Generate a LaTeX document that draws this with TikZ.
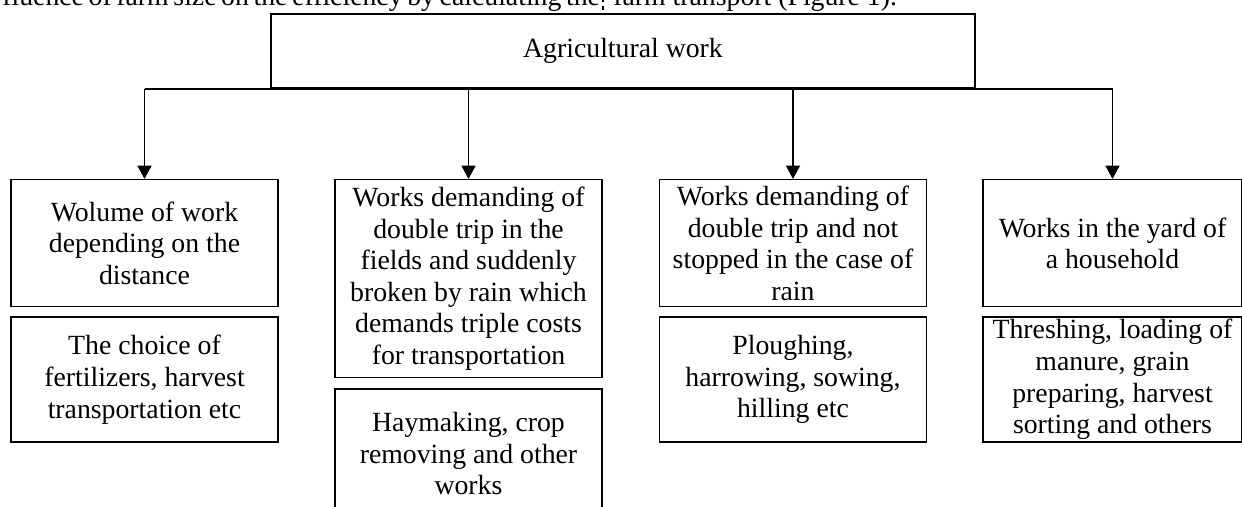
\documentclass[tikz,border=0pt]{standalone}
\usepackage{fontspec}
\setmainfont{Liberation Serif}
\usetikzlibrary{positioning,arrows.meta}

\begin{document}
\begin{tikzpicture}[x=0.02cm,y=-0.02cm]
        \tikzstyle{every node}=[font=\fontsize{15.8}{18}\selectfont]
        \tikzstyle{box}=[draw, line width=0.8pt, align=center, inner sep=0pt, minimum width=5.34cm]
        \tikzstyle{link}=[line width=1.1pt, -{Triangle[length=0.27cm,width=0.28cm]}]

        \useasboundingbox (0,0) rectangle (1242,507);

        % cut-off line of the page above
        \node (pageleft)  [anchor=base west, inner sep=0pt] at (2,6) {\makebox[11.76cm][s]{fluence of farm size on the efficiency by calculating the}};
        \node (pageright) [anchor=base west, inner sep=0pt] at (613,6) {farm transport (Figure 1).};
        \draw[densely dashed, line width=0.8pt] (603,-12) -- (603,10);

        \node (agri) [box, minimum width=14.08cm, minimum height=1.48cm] at (623,51) {Agricultural work};

        \node (dist)  [box, anchor=north, minimum height=2.54cm] at (144.5,179) {Wolume of work\\depending on the\\distance};
        \node (rain)  [box, anchor=north, minimum height=3.96cm] at (468.5,179) {Works demanding of\\double trip in the\\fields and suddenly\\broken by rain which\\demands triple costs\\for transportation};
        \node (norain)[box, anchor=north, minimum height=2.54cm] at (793,179) {Works demanding of\\double trip and not\\stopped in the case of\\rain};
        \node (yard)  [box, anchor=north, minimum height=2.54cm, minimum width=5.18cm] at (1112.5,179) {Works in the yard of\\a household};

        \node (fert)  [box, below=0.18cm of dist,   minimum height=2.5cm]  {The choice of\\fertilizers, harvest\\transportation etc};
        \node (hay)   [box, below=0.2cm of rain,    minimum height=2.58cm] {Haymaking, crop\\removing and other\\works};
        \node (plough)[box, below=0.18cm of norain, minimum height=2.5cm]  {Ploughing,\\harrowing, sowing,\\hilling etc};
        \node (thresh)[box, below=0.18cm of yard,   minimum height=2.5cm, minimum width=5.18cm] {Threshing, loading of\\manure, grain\\preparing, harvest\\sorting and others};

        % branches
        \draw[line width=1.1pt] (agri.south -| dist.north) -- (agri.south -| yard.north);
        \draw[link] (agri.south -| dist.north) -- (dist.north);
        \draw[link] (agri.south -| rain.north) -- (rain.north);
        \draw[link] (agri.south -| norain.north) -- (norain.north);
        \draw[link] (agri.south -| yard.north) -- (yard.north);

\end{tikzpicture}
\end{document}
